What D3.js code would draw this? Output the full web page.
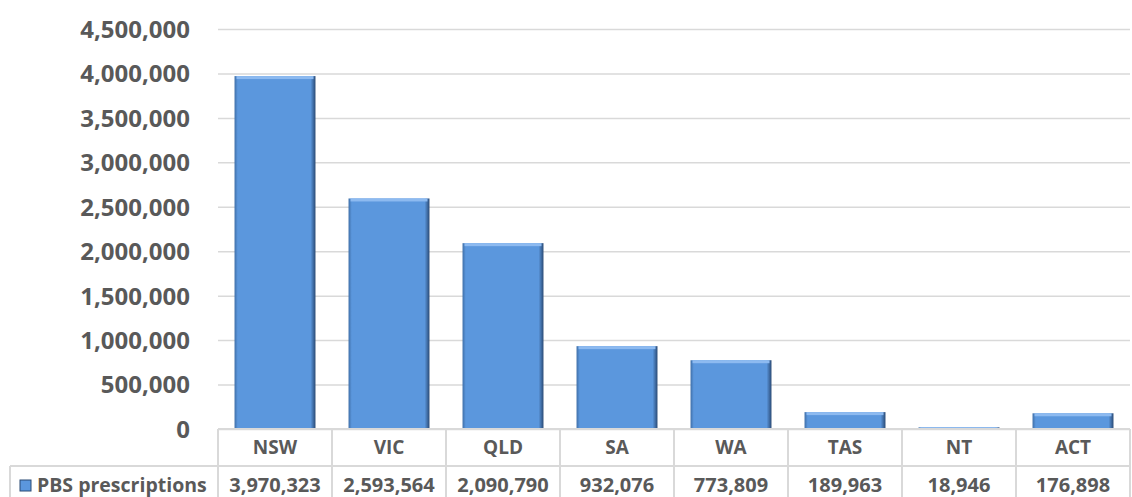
<!DOCTYPE html>
<html>
<head>
<meta charset="utf-8">
<script src="https://cdn.jsdelivr.net/npm/d3@7"></script>
<style>
body { margin: 0; background: #fff; }
text { font-family: "Open Sans", "Liberation Sans", sans-serif; font-weight: bold; fill: #595959; }
</style>
</head>
<body>
<svg id="chart" width="1132" height="497"></svg>
<script>
const states = ['NSW', 'VIC', 'QLD', 'SA', 'WA', 'TAS', 'NT', 'ACT']
const prescriptions = [3970323, 2593564, 2090790, 932076, 773809, 189963, 18946, 176898]
const seriesName = 'PBS prescriptions'
const yTicks = [0, 500000, 1000000, 1500000, 2000000, 2500000, 3000000, 3500000, 4000000, 4500000]

const svg = d3.select('#chart')
const plotLeft = 218, plotRight = 1130, plotTop = 29, plotBottom = 429
const rowH = 37
const tableLeft = 10

const x = d3.scaleBand().domain(states).range([plotLeft, plotRight]).paddingInner(0.29).paddingOuter(0.145)
const xCol = d3.scaleBand().domain(states).range([plotLeft, plotRight])
const y = d3.scaleLinear().domain([0, 4500000]).range([plotBottom, plotTop])
const fmt = d3.format(',')

// gridlines + y labels
const yAxis = svg.append('g').attr('class', 'y axis').attr('transform', 'translate(' + plotLeft + ',0)')
yAxis.call(d3.axisLeft(y).tickValues(yTicks).tickSize(-(plotRight - plotLeft)).tickFormat(fmt))
yAxis.select('.domain').remove()
yAxis.selectAll('.tick line').attr('stroke', '#d9d9d9').attr('stroke-width', 1.5)
yAxis.selectAll('.tick text')
    .attr('font-size', 24)
    .attr('x', -28)
    .attr('dy', '0.35em')
    .style('font-family', '"Open Sans", sans-serif')
    .style('font-weight', 'bold')
    .attr('fill', '#595959')

// bars with a simple bevel
const defs = svg.append('defs')
const grad = defs.append('linearGradient').attr('id', 'edge').attr('x1', 0).attr('x2', 1)
grad.append('stop').attr('offset', '0%').attr('stop-color', '#3f6fa8')
grad.append('stop').attr('offset', '4%').attr('stop-color', '#5b97dd')
grad.append('stop').attr('offset', '94%').attr('stop-color', '#5b97dd')
grad.append('stop').attr('offset', '100%').attr('stop-color', '#2a4a75')

const bars = svg.append('g').selectAll('g').data(states).join('g')
bars.append('rect')
    .attr('x', d => x(d))
    .attr('width', x.bandwidth())
    .attr('y', (d, i) => y(prescriptions[i]))
    .attr('height', (d, i) => y(0) - y(prescriptions[i]))
    .attr('fill', 'url(#edge)')
bars.append('rect')
    .attr('x', d => x(d) + 2)
    .attr('width', x.bandwidth() - 4)
    .attr('y', (d, i) => y(prescriptions[i]))
    .attr('height', (d, i) => Math.min(3, y(0) - y(prescriptions[i])))
    .attr('fill', '#8dbaf0')

// data table
const table = svg.append('g').attr('stroke', '#d9d9d9').attr('stroke-width', 2)
table.append('line').attr('x1', plotLeft).attr('x2', plotRight).attr('y1', plotBottom).attr('y2', plotBottom)
table.append('line').attr('x1', tableLeft).attr('x2', plotRight).attr('y1', plotBottom + rowH).attr('y2', plotBottom + rowH)
table.append('line').attr('x1', tableLeft).attr('x2', tableLeft).attr('y1', plotBottom + rowH).attr('y2', 497)
table.selectAll('.vline').data(states).join('line')
    .attr('x1', d => xCol(d)).attr('x2', d => xCol(d))
    .attr('y1', plotBottom).attr('y2', 497)
table.append('line').attr('x1', plotRight).attr('x2', plotRight).attr('y1', plotBottom).attr('y2', 497)

svg.append('g').selectAll('text').data(states).join('text')
    .attr('x', d => xCol(d) + xCol.bandwidth() / 2)
    .attr('y', plotBottom + 25)
    .attr('text-anchor', 'middle')
    .attr('font-size', 19)
    .text(d => d)

svg.append('g').selectAll('text').data(prescriptions).join('text')
    .attr('x', (d, i) => xCol(states[i]) + xCol.bandwidth() / 2)
    .attr('y', 492)
    .attr('text-anchor', 'middle')
    .attr('font-size', 20)
    .text(d => fmt(d))

// legend key in the table
svg.append('rect').attr('x', 20).attr('y', 480).attr('width', 11).attr('height', 11)
    .attr('fill', '#5b97dd').attr('stroke', '#2a4a75').attr('stroke-width', 1)
svg.append('text')
    .attr('x', 37).attr('y', 492)
    .attr('font-size', 19.5)
    .text(seriesName)
</script>
</body>
</html>
